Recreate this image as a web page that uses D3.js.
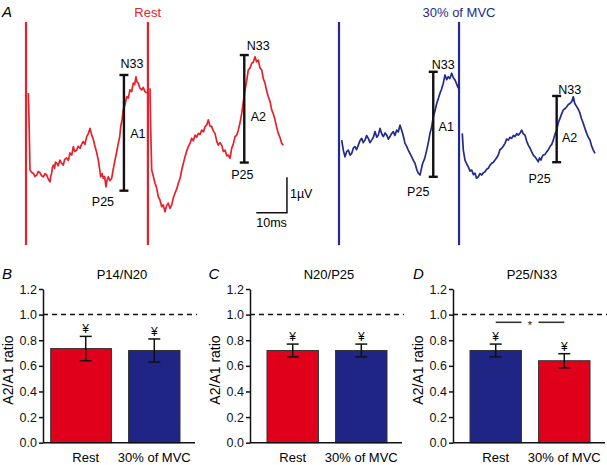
<!DOCTYPE html>
<html><head><meta charset="utf-8">
<script src="https://cdn.jsdelivr.net/npm/d3@7"></script>
<style>body{margin:0;background:#fff} svg{display:block;font-family:"Liberation Sans",Arial,Helvetica,sans-serif}</style>
</head><body><svg id="c" width="607" height="465"></svg>
<script>
// ---------- Panel A: averaged SEP traces (time in ms from 1st stimulus, amplitude in µV) ----------
const restSeg1 = [[0.75,2.44],[1.0,1.6],[1.3,0.28],[1.8,0.22],[2.38,0.19],[2.9,0.1],[3.49,0.14],[4.0,0.24],[4.56,0.20],[5.1,0.12],[5.64,0.09],[6.2,0.18],[6.74,0.14],[7.3,0.02],[7.82,-0.05],[8.1,0.12],[8.37,0.20],[8.6,0.35],[8.89,0.42],[9.3,0.33],[9.6,0.5],[10.0,0.48],[10.5,0.40],[11.07,0.56],[11.6,0.47],[12.15,0.42],[12.6,0.58],[13.26,0.62],[13.8,0.55],[14.33,0.76],[14.9,0.70],[15.41,0.94],[15.9,0.80],[16.51,0.84],[17.0,0.95],[17.59,0.89],[18.1,1.0],[18.66,1.08],[19.2,1.0],[19.77,1.22],[20.3,1.3],[20.85,1.45],[21.4,1.26],[21.9,1.15],[22.48,0.94],[23.0,0.78],[23.55,0.56],[24.0,0.30],[24.33,0.09],[24.8,0.18],[25.18,0.05],[25.6,0.1],[26.06,-0.19],[26.4,0.0],[26.81,0.09],[27.3,-0.02],[27.92,0.05],[28.4,0.3],[28.99,0.56],[29.5,0.78],[30.06,1.03],[30.5,1.2],[30.85,1.50],[31.3,1.7],[31.69,1.97],[32.2,2.1],[32.8,2.34],[33.3,2.3],[33.88,2.53],[34.4,2.48],[34.95,2.72],[35.4,2.68],[35.83,2.90],[36.2,2.75],[36.58,2.72],[37.1,2.58],[37.69,2.53],[38.2,2.6],[38.76,2.48],[39.32,2.44]];
const restSeg2 = [[40.39,2.58],[40.6,1.5],[40.94,0.28],[41.5,0.1],[42.02,-0.09],[42.5,-0.2],[43.09,-0.47],[43.6,-0.55],[44.2,-0.75],[44.7,-0.7],[45.28,-0.89],[45.8,-0.72],[46.35,-0.65],[46.9,-0.80],[47.46,-0.70],[48.0,-0.5],[48.53,-0.37],[49.1,-0.25],[49.61,-0.09],[50.2,0.05],[50.72,0.28],[51.2,0.45],[51.79,0.65],[52.3,0.8],[52.87,0.94],[53.4,1.02],[53.97,1.17],[54.5,1.1],[55.05,1.26],[55.6,1.2],[56.12,1.31],[56.7,1.28],[57.23,1.40],[57.8,1.35],[58.31,1.50],[58.9,1.55],[59.38,1.69],[59.9,1.52],[60.49,1.50],[61.0,1.38],[61.56,1.31],[62.1,1.1],[62.64,0.98],[63.2,1.05],[63.75,0.98],[64.3,0.8],[64.82,0.84],[65.4,0.68],[65.9,0.70],[66.45,0.61],[67.0,0.89],[67.5,1.0],[68.08,1.22],[68.6,1.25],[69.15,1.40],[69.7,1.6],[70.26,1.87],[70.8,2.2],[71.34,2.53],[71.9,2.8],[72.41,3.09],[73.0,3.15],[73.52,3.28],[74.0,3.3],[74.59,3.46],[75.1,3.32],[75.67,3.37],[76.2,3.15],[76.78,3.09],[77.3,2.85],[77.85,2.72],[78.4,2.5],[78.93,2.34],[79.5,2.2],[80.03,1.97],[80.6,1.85],[81.11,1.69],[81.6,1.5],[82.18,1.31],[82.7,1.2],[83.29,1.03],[83.81,0.98]];
const mvcSeg1 = [[0.88,1.12],[1.4,0.84],[1.95,0.65],[2.5,0.8],[3.03,0.84],[3.6,0.7],[4.14,0.75],[4.7,0.9],[5.21,0.94],[5.7,0.85],[6.29,0.98],[6.8,1.1],[7.39,1.17],[7.9,1.05],[8.47,1.12],[9.0,1.25],[9.54,1.17],[10.1,1.05],[10.65,1.12],[11.2,1.2],[11.73,1.36],[12.3,1.2],[12.8,1.26],[13.36,1.45],[13.9,1.3],[14.43,1.22],[15.0,1.32],[15.54,1.26],[16.1,1.15],[16.61,1.22],[17.1,1.3],[17.69,1.36],[18.2,1.25],[18.79,1.40],[19.3,1.35],[19.87,1.54],[20.42,1.40],[20.9,1.25],[21.5,1.03],[22.0,0.95],[22.57,0.84],[23.1,0.75],[23.68,0.65],[24.2,0.55],[24.76,0.47],[25.3,0.3],[25.83,0.19],[26.38,0.14],[26.8,0.3],[27.26,0.47],[27.9,0.6],[28.57,0.84],[29.1,1.05],[29.64,1.31],[30.2,1.5],[30.72,1.78],[31.3,1.95],[31.82,2.15],[32.4,2.3],[32.9,2.44],[33.4,2.55],[33.97,2.72],[34.53,2.95],[35.1,2.82],[35.6,2.90],[36.1,2.85],[36.71,3.00],[37.2,2.88],[37.79,2.81],[38.3,2.7],[38.86,2.58]];
const mvcSeg2 = [[40.16,1.31],[40.49,0.84],[41.04,0.56],[41.6,0.45],[42.12,0.37],[42.7,0.25],[43.22,0.28],[43.8,0.15],[44.3,0.19],[44.8,0.05],[45.37,0.09],[45.9,0.18],[46.48,0.14],[47.0,0.2],[47.56,0.23],[48.1,0.3],[48.63,0.33],[49.2,0.42],[49.74,0.47],[50.3,0.5],[50.81,0.56],[51.3,0.62],[51.89,0.70],[52.4,0.85],[52.99,0.89],[53.5,0.95],[54.07,1.03],[54.6,1.15],[55.15,1.12],[55.7,1.2],[56.25,1.17],[56.8,1.25],[57.33,1.22],[57.9,1.3],[58.4,1.26],[59.0,1.32],[59.51,1.40],[60.0,1.3],[60.59,1.26],[61.1,1.1],[61.66,0.98],[62.2,0.9],[62.77,0.79],[63.3,0.7],[63.84,0.65],[64.4,0.58],[64.92,0.51],[65.3,0.62],[65.8,0.56],[66.2,0.66],[66.55,0.70],[67.1,0.72],[67.65,0.79],[68.2,0.85],[68.73,0.94],[69.3,1.0],[69.8,1.12],[70.4,1.3],[70.91,1.40],[71.4,1.6],[71.99,1.73],[72.5,1.85],[73.06,1.97],[73.6,2.0],[74.17,2.06],[74.7,2.12],[75.24,2.15],[75.8,2.2],[76.32,2.34],[76.8,2.15],[77.43,2.06],[78.0,1.98],[78.5,1.87],[79.0,1.72],[79.58,1.59],[80.1,1.45],[80.68,1.31],[81.2,1.2],[81.76,1.12],[82.3,0.95],[82.83,0.84],[83.39,0.75]];
const restArtifacts = [0, 39.7];
const mvcArtifacts = [0, 39.1];
const artifactRange = [4.44, -1.83];        // µV span of stimulus artefacts
const restMarkers = [{name:"A1", t:31.9, n33:2.95, p25:-0.30}, {name:"A2", t:71.1, n33:3.51, p25:0.49}];
const mvcMarkers  = [{name:"A1", t:30.7, n33:3.04, p25:0.09},  {name:"A2", t:70.9, n33:2.36, p25:0.50}];
const scaleBarMs = 10, scaleBarUv = 1;

// ---------- Panels B-D: A2/A1 ratios ----------
const barCategories = ["Rest", "30% of MVC"];
const panelLetters = ["B", "C", "D"];
const panelTitles = ["P14/N20", "N20/P25", "P25/N33"];
const restMean = [0.735, 0.72, 0.72];
const restSem  = [0.095, 0.05, 0.05];
const mvcMean  = [0.72, 0.72, 0.64];
const mvcSem   = [0.09, 0.05, 0.055];
const yTicks = [0.0, 0.2, 0.4, 0.6, 0.8, 1.0, 1.2];
const refRatio = 1.0;
const significantPanels = ["D"];

// ---------- styling ----------
const RED = "#e1001c", BLUE = "#1f2585";
const TRACE_RED = "#e5222b", TRACE_BLUE = "#222b8c";
const svg = d3.select("#c");
const F = '"Liberation Sans",Arial,Helvetica,sans-serif';

// Panel A
svg.append("text").attr("x",2).attr("y",17).attr("font-size",15).attr("font-style","italic").text("A");
const yA = d3.scaleLinear().domain([0,1]).range([180,144.4]);
const traceDefs = [
  {title:"Rest", color:TRACE_RED, segs:[restSeg1,restSeg2], arts:restArtifacts, markers:restMarkers, x0:26, titleX:147.7, scaleBar:true,
   lab:[{n:[8,-10],a:[14,2],p:[-21,12]},{n:[14,-8],a:[14,9],p:[-2,13]}]},
  {title:"30% of MVC", color:TRACE_BLUE, segs:[mvcSeg1,mvcSeg2], arts:mvcArtifacts, markers:mvcMarkers, x0:339, titleX:459,
   lab:[{n:[10,-6],a:[13,3],p:[-15,16]},{n:[13,-5],a:[13,10],p:[-17,18]}]}
];
traceDefs.forEach(d => {
  const x = d3.scaleLinear().domain([0,10]).range([d.x0, d.x0+30.7]);
  svg.append("text").attr("x",d.titleX).attr("y",17).attr("text-anchor","middle").attr("font-size",13).attr("fill",d.color).text(d.title);
  d.arts.forEach(t => svg.append("line").attr("x1",x(t)).attr("x2",x(t)).attr("y1",yA(artifactRange[0])).attr("y2",yA(artifactRange[1]))
      .attr("stroke",d.color).attr("stroke-width",2.2));
  const line = d3.line().x(p=>x(p[0])).y(p=>yA(p[1]));
  d.segs.forEach(s => svg.append("path").attr("d",line(s)).attr("fill","none").attr("stroke",d.color).attr("stroke-width",1.7).attr("stroke-linejoin","round"));
  d.markers.forEach((m,i) => {
    const mx = x(m.t), yt = yA(m.n33), yb = yA(m.p25), L = d.lab[i];
    const g = svg.append("g").attr("stroke","#111").attr("stroke-width",2.4);
    g.append("line").attr("x1",mx).attr("x2",mx).attr("y1",yt).attr("y2",yb);
    g.append("line").attr("x1",mx-4.5).attr("x2",mx+4.5).attr("y1",yt).attr("y2",yt);
    g.append("line").attr("x1",mx-4.5).attr("x2",mx+4.5).attr("y1",yb).attr("y2",yb);
    const t = (txt,dx,dy) => svg.append("text").attr("x",mx+dx).attr("y",dy).attr("text-anchor","middle").attr("dominant-baseline","middle").attr("font-size",12.5).text(txt);
    t("N33", L.n[0], yt+L.n[1]);
    t(m.name, L.a[0], (yt+yb)/2+L.a[1]);
    t("P25", L.p[0], yb+L.p[1]);
  });
  if (d.scaleBar) {
    const t1 = 85, v0 = -0.92;
    const g = svg.append("g").attr("stroke","#111").attr("stroke-width",1.5).attr("fill","none");
    g.append("path").attr("d",`M${x(t1-scaleBarMs)},${yA(v0)}H${x(t1)}V${yA(v0+scaleBarUv)}`);
    svg.append("text").attr("x",x(t1)+3).attr("y",yA(v0+scaleBarUv/2)).attr("dominant-baseline","middle").attr("font-size",12.5).text("1µV");
    svg.append("text").attr("x",x(t1-scaleBarMs/2)).attr("y",yA(v0)+14).attr("text-anchor","middle").attr("font-size",12.5).text("10ms");
  }
});

// Panels B-D
const yB = d3.scaleLinear().domain([0,1.2]).range([442.7,289]);
const axisX = [43, 250, 453];
panelLetters.forEach((letter,i) => {
  const ax = axisX[i];
  const g = svg.append("g");
  const x = d3.scaleBand().domain(barCategories).range([ax+17, ax+137]).paddingInner(0.25).paddingOuter(0);
  const colors = letter === "D" ? [BLUE, RED] : [RED, BLUE];
  const extraLeft = letter === "B" ? [9.3, 0] : [0, 0];
  const means = [restMean[i], mvcMean[i]], sems = [restSem[i], mvcSem[i]];
  g.append("text").attr("x",ax-41+(letter==="B"?0:(letter==="C"?-0.5:1))).attr("y",279).attr("font-size",15).attr("font-style","italic").text(letter);
  g.append("text").attr("x",ax+79).attr("y",279).attr("text-anchor","middle").attr("font-size",13).text(panelTitles[i]);
  g.append("text").attr("transform",`translate(${ax-30.5},370) rotate(-90)`).attr("text-anchor","middle").attr("font-size",14).text("A2/A1 ratio");
  g.append("line").attr("x1",ax).attr("x2",ax+154).attr("y1",yB(refRatio)).attr("y2",yB(refRatio))
    .attr("stroke","#111").attr("stroke-width",1.5).attr("stroke-dasharray","5,4");
  barCategories.forEach((c,j) => {
    const bx = x(c) - extraLeft[j], bw = x.bandwidth() + extraLeft[j], cx = x(c) + x.bandwidth()/2;
    g.append("rect").attr("x",bx).attr("y",yB(means[j])).attr("width",bw).attr("height",yB(0)-yB(means[j]))
      .attr("fill",colors[j]).attr("stroke","#333").attr("stroke-width",1);
    const eg = g.append("g").attr("stroke","#111").attr("stroke-width",1.5);
    const hi = yB(means[j]+sems[j]), lo = yB(means[j]-sems[j]);
    eg.append("line").attr("x1",cx).attr("x2",cx).attr("y1",hi).attr("y2",lo);
    eg.append("line").attr("x1",cx-6).attr("x2",cx+6).attr("y1",hi).attr("y2",hi);
    eg.append("line").attr("x1",cx-6).attr("x2",cx+6).attr("y1",lo).attr("y2",lo);
    g.append("text").attr("x",cx).attr("y",hi-3).attr("text-anchor","middle").attr("font-size",12).text("¥");
    g.append("text").attr("x",cx).attr("y",462).attr("text-anchor","middle").attr("font-size",13).text(c);
  });
  const yAxis = d3.axisLeft(yB).tickValues(yTicks).tickFormat(d3.format(".1f")).tickSize(4).tickSizeOuter(0);
  const ya = g.append("g").attr("transform",`translate(${ax},0)`).call(yAxis);
  ya.selectAll("text").attr("font-size",12.5).attr("font-family",F).attr("fill","#111").attr("x",-6);
  ya.selectAll("line").attr("stroke","#111").attr("stroke-width",1.5);
  ya.select(".domain").attr("stroke","#111").attr("stroke-width",1.5);
  g.append("line").attr("x1",ax).attr("x2",ax+152).attr("y1",yB(0)).attr("y2",yB(0)).attr("stroke","#111").attr("stroke-width",1.5);
  if (significantPanels.includes(letter)) {
    const c0 = x(barCategories[0]) + x.bandwidth()/2, c1 = x(barCategories[1]) + x.bandwidth()/2, mid = (c0+c1)/2;
    const sy = yB(0.94);
    g.append("line").attr("x1",c0).attr("x2",mid-8.5).attr("y1",sy).attr("y2",sy).attr("stroke","#333").attr("stroke-width",1.6);
    g.append("line").attr("x1",mid+8.5).attr("x2",c1).attr("y1",sy).attr("y2",sy).attr("stroke","#333").attr("stroke-width",1.6);
    g.append("text").attr("x",mid).attr("y",sy+6.5).attr("text-anchor","middle").attr("font-size",11).attr("fill","#111").text("*");
  }
});
</script></body></html>
